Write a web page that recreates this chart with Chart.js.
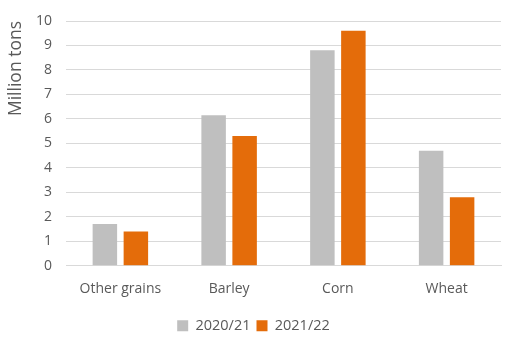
<!DOCTYPE html>
<html><head><meta charset="utf-8">
<script src="https://cdn.jsdelivr.net/npm/chart.js@4"></script>
<style>html,body{margin:0;padding:0;background:#fff}#wrap{width:522px;height:355px}</style>
</head><body><div id="wrap"><canvas id="c" width="522" height="355"></canvas></div>
<script>
const categories = ["Other grains", "Barley", "Corn", "Wheat"];
const series2020 = [1.7, 6.15, 8.8, 4.7];
const series2021 = [1.4, 5.3, 9.6, 2.8];
const seriesNames = ["2020/21", "2021/22"];
const yTicks = [0,1,2,3,4,5,6,7,8,9,10];

const FONT = "'Open Sans', 'Liberation Sans', sans-serif";
new Chart(document.getElementById('c'), {
  type: 'bar',
  data: {
    labels: categories,
    datasets: [
      {label: seriesNames[0], data: series2020, backgroundColor: '#bfbfbf', categoryPercentage: 0.57, barPercentage: 0.79},
      {label: seriesNames[1], data: series2021, backgroundColor: '#e46c0a', categoryPercentage: 0.57, barPercentage: 0.79}
    ]
  },
  options: {
    responsive: false,
    animation: false,
    devicePixelRatio: 1,
    layout: {padding: {left: 6, right: 21, top: 6, bottom: 12}},
    plugins: {
      legend: {
        position: 'bottom',
        labels: {boxWidth: 11, boxHeight: 11, color: '#595959', font: {family: FONT, size: 14.5}, padding: 6}
      },
      tooltip: {enabled: false}
    },
    scales: {
      x: {
        grid: {display: false, drawTicks: false},
        border: {display: true, color: '#d9d9d9', width: 1},
        ticks: {color: '#595959', font: {family: FONT, size: 14}, padding: 15}
      },
      y: {
        min: 0, max: 10,
        afterBuildTicks: (ax) => { ax.ticks = yTicks.map(v => ({value: v})); },
        afterFit: (ax) => { ax.width = 60; },
        grid: {color: '#d9d9d9', drawTicks: false},
        border: {display: false},
        ticks: {color: '#595959', font: {family: FONT, size: 14, lineHeight: 1}, padding: 14},
        title: {display: true, text: 'Million tons', align: 'end', color: '#595959', font: {family: FONT, size: 17.5}, padding: 0}
      }
    }
  }
});
</script></body></html>
